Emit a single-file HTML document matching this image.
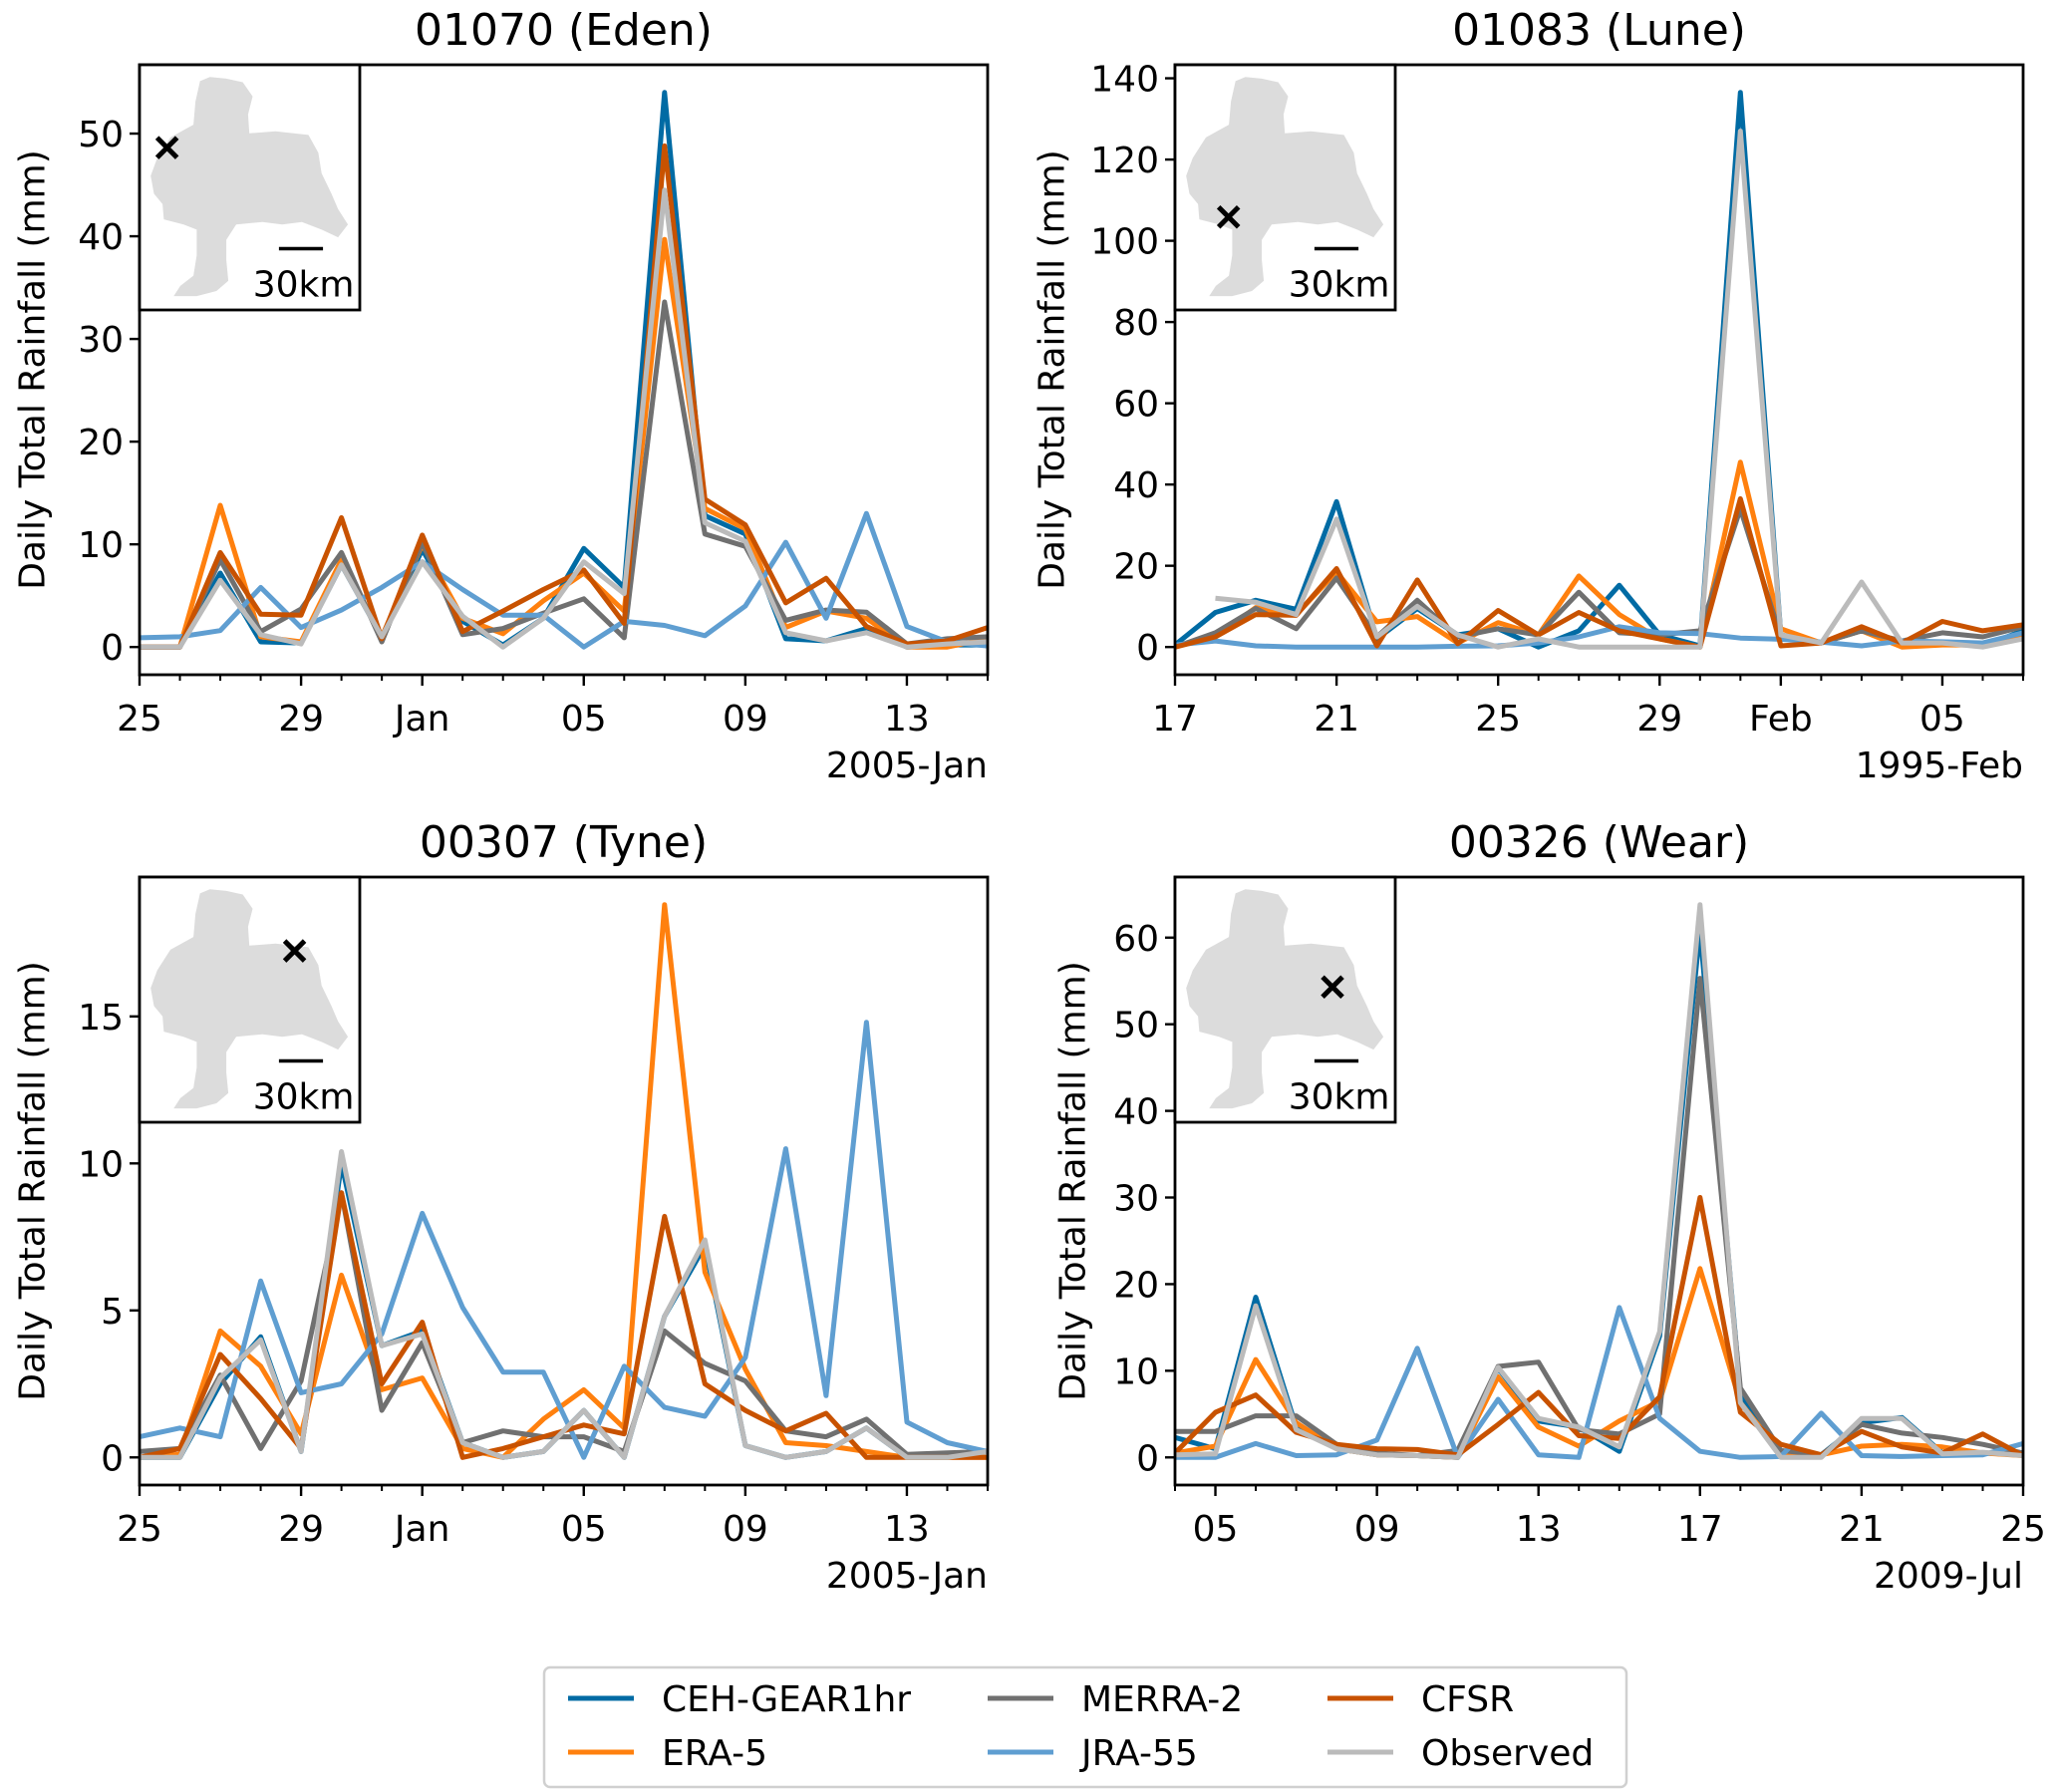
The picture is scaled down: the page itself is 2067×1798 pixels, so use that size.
<!DOCTYPE html>
<html><head><meta charset="utf-8"><style>
html,body{margin:0;padding:0;background:#fff;}
svg{display:block;font-family:"DejaVu Sans","Liberation Sans",sans-serif;}
</style></head><body>
<svg id="fig" xmlns="http://www.w3.org/2000/svg" width="2067" height="1798" viewBox="0 0 2067 1798"></svg>
<script>
// ---- data ----
const edenTicks = ['25','29','Jan','05','09','13'];
const edenTickIdx = [0,4,7,11,15,19];
const eden_ceh  = [0,0,7.2,0.5,0.4,8,1,9.5,2.5,0.2,2.8,9.6,5.8,54,12.8,11,0.8,0.6,1.8,0,0.2,0.2];
const eden_era  = [0,0,13.8,1,0.5,8.5,1,10,2.8,1.3,4.5,7.2,3.5,39.7,13.5,11.5,1.9,3.5,2.8,0,0,0.8];
const eden_mer  = [0,0,8.5,1.5,3.7,9.2,0.5,10.2,1.2,1.8,3.3,4.7,0.9,33.6,11,9.8,2.6,3.6,3.4,0.3,0.8,1];
const eden_jra  = [0.9,1,1.6,5.8,1.9,3.6,5.8,8.3,5.6,3.1,3.1,0,2.5,2.1,1.1,4,10.2,2.8,13,2,0.5,0.1];
const eden_cfs  = [0,0,9.2,3.2,3.1,12.6,0.8,10.9,1.5,3.5,5.6,7.5,2.3,48.8,14.4,11.9,4.3,6.7,2,0.3,0.6,1.9];
const eden_obs  = [0,0,6.5,1.2,0.3,8,1,8.3,3,0,2.8,8.3,5.2,44.5,12.1,10.3,1.4,0.6,1.4,0,0.3,0.5];

const luneTicks = ['17','21','25','29','Feb','05'];
const luneTickIdx = [0,4,8,12,15,19];
const lune_ceh = [0.5,8.5,11.5,9.3,35.8,2,9.5,3,4.5,0,4,15.2,3,0.3,136.5,3,1,4,1,1,0.3,4];
const lune_era = [0,2.5,9.7,8,18.5,6.2,7.5,1,6,3,17.5,8,2,0,45.5,4.5,1,4,0,0.5,0.5,3];
const lune_mer = [0,3.5,9.5,4.5,17,2.5,11.5,2.5,4.5,3,13.5,3.5,3,4,34,2.5,1,4,1.5,3.5,2.5,5];
const lune_jra = [0.5,1.5,0.3,0,0,0,0,0.2,0.3,1,2.5,5,3.5,3.3,2.2,1.9,1.2,0.3,1.5,1.3,1,3.5];
const lune_cfs = [0,2.5,8,7.8,19.3,0.3,16.5,0.8,9,3,8.5,4,2,0,36.5,0.3,1,5,1,6.3,4,5.5];
const lune_obs = [null,12,11,8,31.5,2.5,10,3,0,2,0,0,0,0,127,3,1,16,1,1,0,2];

const tyneTicks = ['25','29','Jan','05','09','13'];
const tyneTickIdx = [0,4,7,11,15,19];
const tyne_ceh = [0,0,2.5,4.1,0.2,10,3.8,4.3,0.5,0,0.2,1.6,0,4.8,7.2,0.4,0,0.2,1,0,0,0.2];
const tyne_era = [0,0.1,4.3,3.1,0.8,6.2,2.3,2.7,0.3,0,1.3,2.3,1,18.8,6.3,3,0.5,0.4,0.2,0,0,0];
const tyne_mer = [0.2,0.3,2.8,0.3,2.6,9,1.6,3.9,0.5,0.9,0.7,0.7,0.2,4.3,3.2,2.6,0.9,0.7,1.3,0.1,0.15,0.2];
const tyne_jra = [0.7,1,0.7,6,2.2,2.5,4.2,8.3,5.1,2.9,2.9,0,3.1,1.7,1.4,3.4,10.5,2.1,14.8,1.2,0.5,0.2];
const tyne_cfs = [0,0.3,3.5,2,0.3,9,2.5,4.6,0,0.3,0.7,1.1,0.8,8.2,2.5,1.6,0.9,1.5,0,0,0,0];
const tyne_obs = [0,0,2.7,4,0.2,10.4,3.8,4.2,0.5,0,0.2,1.6,0,4.8,7.4,0.4,0,0.2,1,0,0,0.2];

const wearTicks = ['05','09','13','17','21','25'];
const wearTickIdx = [1,5,9,13,17,21];
const wear_ceh = [2.3,1,18.5,3.5,1,0.3,0.2,0,10.3,4.2,3.5,0.7,14,61,7.3,0.3,0.3,4,4.6,0.5,0.5,0.3];
const wear_era = [0.5,1.3,11.3,4,1,0.3,0.2,0,9.3,3.5,1.3,4.2,6.5,21.8,6.3,0.5,0.3,1.3,1.5,1.2,0.5,0.2];
const wear_mer = [3,3,4.8,4.8,1.5,0.5,0.2,0.8,10.5,11,3.2,2.7,5,55.3,8,0.8,0.3,3.8,2.8,2.3,1.5,0.5];
const wear_jra = [0,0,1.6,0.2,0.3,2,12.6,0,6.7,0.3,0,17.3,4.5,0.7,0,0.1,5.1,0.2,0.1,0.2,0.3,1.6];
const wear_cfs = [0.5,5.2,7.2,2.9,1.5,1,0.9,0.3,3.8,7.5,2.5,2.2,7,30,5.2,1.5,0.3,3,1.2,0.5,2.7,0.2];
const wear_obs = [0.3,0.4,17.5,3.2,1,0.3,0.2,0,10.4,4.5,3.5,1.2,14.5,63.8,6.3,0,0,4.5,4.5,0.4,0.6,0.2];

const seriesNames = ['CEH-GEAR1hr','ERA-5','MERRA-2','JRA-55','CFSR','Observed'];
const seriesColors = ['#006BA4','#FF800E','#707070','#5F9ED1','#C85200','#BBBBBB'];

// ---- drawing ----
const NS='http://www.w3.org/2000/svg';
const svg=document.getElementById('fig');
function mk(tag,attrs,parent){const e=document.createElementNS(NS,tag);for(const k in attrs)e.setAttribute(k,attrs[k]);(parent||svg).appendChild(e);return e;}

const mapPts=[[305,160],[320,152],[345,155],[370,162],[385,190],[378,225],[380,262],[420,258],[470,265],[485,300],[490,340],[505,380],[515,410],[530,440],[515,465],[490,450],[460,435],[430,440],[400,435],[360,440],[345,470],[345,510],[348,550],[330,570],[300,580],[265,580],[275,560],[295,540],[300,500],[300,450],[280,440],[250,430],[248,400],[235,380],[230,345],[240,310],[260,270],[295,245],[298,200]];

const FS=36;
function panel(cfg){
  const g=mk('g',{});
  
  
  const L=cfg.x0,R=cfg.x1,T=cfg.y0,B=cfg.y1;
  let mx=0;cfg.series.forEach(s=>s.forEach(v=>{if(v!=null&&v>mx)mx=v;}));
  const ymin=-0.05*mx,ymax=1.05*mx;
  const n=cfg.series[0].length;
  const xs=i=>L+(R-L)*i/(n-1);
  const ys=v=>B-(B-T)*(v-ymin)/(ymax-ymin);
  const clip=mk('clipPath',{id:'clip-'+cfg.name},g);
  mk('rect',{x:L,y:T,width:R-L,height:B-T},clip);
  const sg=mk('g',{'clip-path':'url(#clip-'+cfg.name+')'},g);
  cfg.series.forEach((s,k)=>{
    let d='';let pen=false;
    s.forEach((v,i)=>{if(v==null){pen=false;return;}d+=(pen?'L':'M')+xs(i).toFixed(1)+' '+ys(v).toFixed(1);pen=true;});
    const p=mk('path',{d:d,fill:'none',stroke:seriesColors[k],'stroke-width':5,'stroke-linejoin':'round'},sg);
    
    
  });
  for(let v=0;v<=ymax;v+=cfg.ystep){
    const y=ys(v);
    mk('line',{x1:L-10,x2:L,y1:y,y2:y,stroke:'#000','stroke-width':2.4},g);
    const t=mk('text',{x:L-16,y:y+13,'text-anchor':'end','font-size':FS},g);
    t.textContent=String(v);
    
    
  }
  for(let i=0;i<n;i++){
    mk('line',{x1:xs(i),x2:xs(i),y1:B,y2:B+6,stroke:'#000','stroke-width':2},g);
  }
  cfg.ticks.forEach((lab,j)=>{
    const x=xs(cfg.tickIdx[j]);
    mk('line',{x1:x,x2:x,y1:B,y2:B+11,stroke:'#000','stroke-width':2.4},g);
    const t=mk('text',{x:x,y:B+56,'text-anchor':'middle','font-size':FS},g);
    t.textContent=lab;
    
    
  });
  const dl=mk('text',{x:R,y:B+103,'text-anchor':'end','font-size':FS},g);
  dl.textContent=cfg.dateLabel;
  
  
  mk('rect',{x:L,y:T,width:R-L,height:B-T,fill:'none',stroke:'#000','stroke-width':2.8},g);
  const tt=mk('text',{x:(L+R)/2,y:T-20,'text-anchor':'middle','font-size':44},g);
  tt.textContent=cfg.title;
  
  
  const yl=mk('text',{x:0,y:0,'text-anchor':'middle','dominant-baseline':'central','font-size':FS,transform:'translate('+(L-cfg.ylOff)+','+((T+B)/2)+') rotate(-90)'},g);
  yl.textContent='Daily Total Rainfall (mm)';
  
  
  const iw=221,ih=246;
  const ig=mk('g',{},g);
  
  
  mk('rect',{x:L,y:T,width:iw,height:ih,fill:'#fff',stroke:'#000','stroke-width':2.8},ig);
  const pts=mapPts.map(p=>(L+(p[0]-213)/335*iw).toFixed(1)+','+(T+(p[1]-128)/479*ih).toFixed(1)).join(' ');
  mk('polygon',{points:pts,fill:'#dcdcdc'},ig);
  const mxp=L+cfg.mark[0]*iw,myp=T+cfg.mark[1]*ih;
  mk('path',{d:`M${mxp-10} ${myp-10}L${mxp+10} ${myp+10}M${mxp-10} ${myp+10}L${mxp+10} ${myp-10}`,stroke:'#000','stroke-width':5},ig);
  mk('line',{x1:L+0.633*iw,x2:L+0.833*iw,y1:T+0.75*ih,y2:T+0.75*ih,stroke:'#000','stroke-width':3.5},ig);
  const km=mk('text',{x:L+0.975*iw,y:T+0.945*ih,'text-anchor':'end','font-size':FS},ig);
  km.textContent='30km';
  
  
}

panel({name:'eden',title:'01070 (Eden)',x0:140,x1:991,y0:65,y1:677,ystep:10,ticks:edenTicks,tickIdx:edenTickIdx,dateLabel:'2005-Jan',ylOff:107,mark:[0.125,0.338],
  series:[eden_ceh,eden_era,eden_mer,eden_jra,eden_cfs,eden_obs]});
panel({name:'lune',title:'01083 (Lune)',x0:1179,x1:2030,y0:65,y1:677,ystep:20,ticks:luneTicks,tickIdx:luneTickIdx,dateLabel:'1995-Feb',ylOff:123,mark:[0.243,0.621],
  series:[lune_ceh,lune_era,lune_mer,lune_jra,lune_cfs,lune_obs]});
panel({name:'tyne',title:'00307 (Tyne)',x0:140,x1:991,y0:880,y1:1490,ystep:5,ticks:tyneTicks,tickIdx:tyneTickIdx,dateLabel:'2005-Jan',ylOff:107,mark:[0.704,0.301],
  series:[tyne_ceh,tyne_era,tyne_mer,tyne_jra,tyne_cfs,tyne_obs]});
panel({name:'wear',title:'00326 (Wear)',x0:1179,x1:2030,y0:880,y1:1490,ystep:10,ticks:wearTicks,tickIdx:wearTickIdx,dateLabel:'2009-Jul',ylOff:102,mark:[0.715,0.448],
  series:[wear_ceh,wear_era,wear_mer,wear_jra,wear_cfs,wear_obs]});

const lg=mk('g',{});


mk('rect',{x:546,y:1673,width:1086,height:120,rx:6,fill:'#fff',stroke:'#d0d0d0','stroke-width':2.5},lg);
const colX=[570,991,1332],rowY=[1704,1758];
[0,1,2,3,4,5].forEach((k,j)=>{
  const c=Math.floor(j/2),r=j%2;
  const e=mk('g',{},lg);
  
  
  mk('line',{x1:colX[c],x2:colX[c]+66,y1:rowY[r],y2:rowY[r],stroke:seriesColors[k],'stroke-width':5},e);
  const t=mk('text',{x:colX[c]+94,y:rowY[r]+13,'font-size':FS},e);
  t.textContent=seriesNames[k];
});
</script>
</body></html>
